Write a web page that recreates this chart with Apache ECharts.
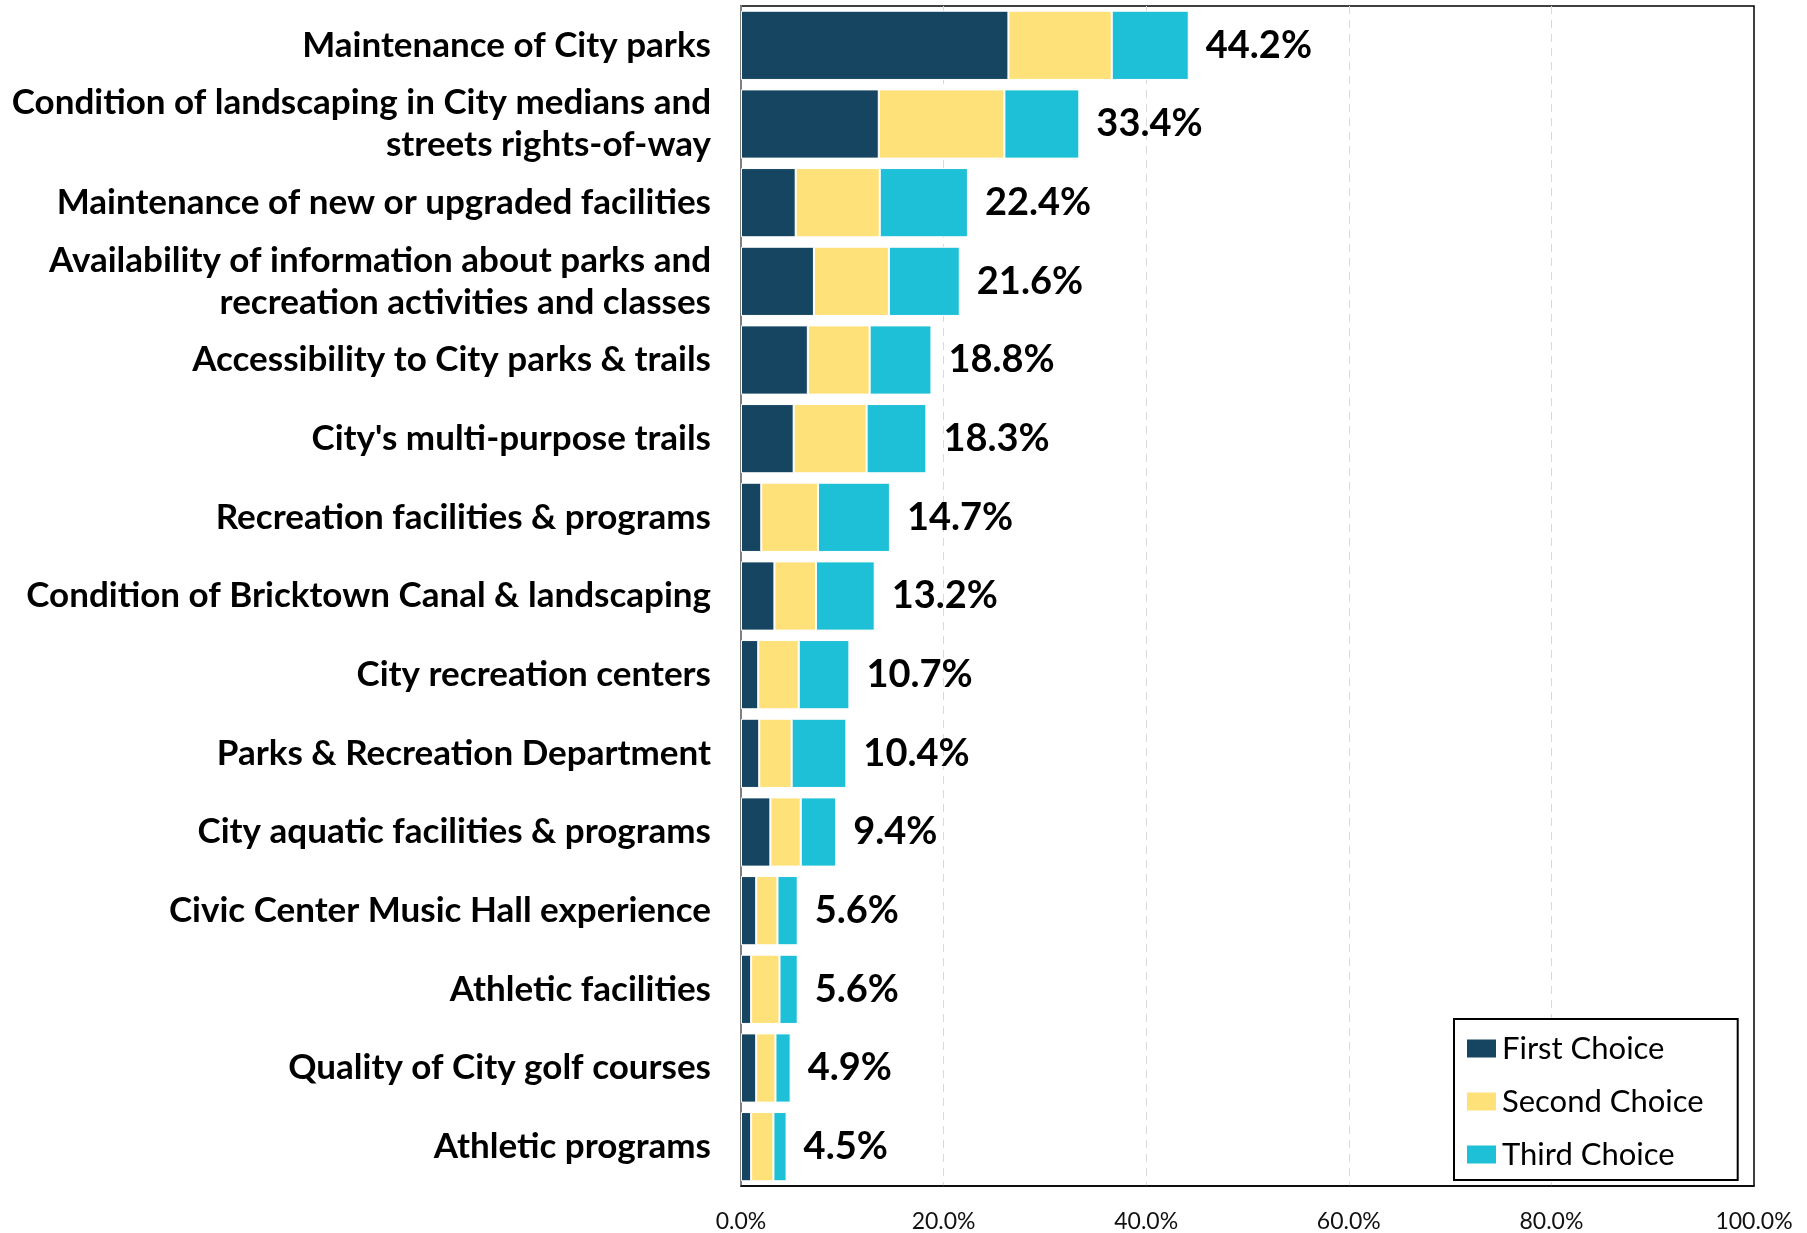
<!DOCTYPE html>
<html>
<head>
<meta charset="utf-8">
<script src="https://cdn.jsdelivr.net/npm/echarts@6/dist/echarts.min.js"></script>
<style>
  html, body { margin: 0; padding: 0; background: #fff; }
  #main { width: 1807px; height: 1233px; }
</style>
</head>
<body>
<div id="main"></div>
<script>
// categories, top to bottom
var categories = [
  'Maintenance of City parks',
  'Condition of landscaping in City medians and\nstreets rights-of-way',
  'Maintenance of new or upgraded facilities',
  'Availability of information about parks and\nrecreation activities and classes',
  'Accessibility to City parks & trails',
  "City's multi-purpose trails",
  'Recreation facilities & programs',
  'Condition of Bricktown Canal & landscaping',
  'City recreation centers',
  'Parks & Recreation Department',
  'City aquatic facilities & programs',
  'Civic Center Music Hall experience',
  'Athletic facilities',
  'Quality of City golf courses',
  'Athletic programs'
];

// percent values
var firstChoice  = [26.4, 13.6, 5.4, 7.2, 6.6, 5.2, 2.0, 3.3, 1.7, 1.8, 2.9, 1.5, 1.0, 1.5, 1.0];
var secondChoice = [10.2, 12.4, 8.3, 7.4, 6.1, 7.2, 5.6, 4.1, 4.0, 3.2, 3.0, 2.1, 2.8, 1.9, 2.2];
var thirdChoice  = [7.6,  7.4,  8.7, 7.0, 6.1, 5.9, 7.1, 5.8, 5.0, 5.4, 3.5, 2.0, 1.8, 1.5, 1.3];
var totals       = [44.2, 33.4, 22.4, 21.6, 18.8, 18.3, 14.7, 13.2, 10.7, 10.4, 9.4, 5.6, 5.6, 4.9, 4.5];

var chart = echarts.init(document.getElementById('main'));

function barSeries(name, data, color) {
  return {
    name: name,
    type: 'bar',
    stack: 'total',
    data: data,
    barCategoryGap: '12%',
    itemStyle: { color: color, borderColor: '#fff', borderWidth: 1 }
  };
}

var third = barSeries('Third Choice', thirdChoice, '#1EC0D7');
// total label sits at the end of the last segment
third.label = {
  show: true,
  position: 'right',
  distance: 17,
  fontFamily: 'Lato',
  fontWeight: 'bold',
  fontSize: 38,
  color: '#000',
  formatter: function (p) {
    return totals[p.dataIndex].toFixed(1) + '%';
  }
};

var option = {
  animation: false,
  backgroundColor: '#fff',
  textStyle: { fontFamily: 'Lato' },
  grid: {
    left: 741,
    right: 53,
    top: 6,
    bottom: 47,
    show: true,
    borderColor: '#000',
    borderWidth: 1.5
  },
  legend: {
    orient: 'vertical',
    left: 1454,
    top: 1019,
    data: ['First Choice', 'Second Choice', 'Third Choice'],
    icon: 'rect',
    itemWidth: 31,
    itemHeight: 20,
    itemGap: 22,
    padding: [14, 34, 10, 11],
    borderColor: '#000',
    borderWidth: 2,
    backgroundColor: '#fff',
    textStyle: { fontFamily: 'Lato', fontSize: 31, color: '#000', lineHeight: 20 }
  },
  xAxis: {
    type: 'value',
    min: 0,
    max: 100,
    interval: 20,
    axisLine: { show: true, lineStyle: { color: '#000', width: 1.5 } },
    axisTick: { show: false },
    splitLine: {
      show: true,
      showMinLine: false,
      showMaxLine: false,
      lineStyle: { color: '#d9d9d9', type: [8, 6], width: 1 }
    },
    axisLabel: {
      margin: 24,
      fontFamily: 'Lato',
      fontSize: 23,
      color: '#111',
      formatter: function (v) { return v.toFixed(1) + '%'; }
    }
  },
  yAxis: {
    type: 'category',
    inverse: true,
    data: categories,
    axisLine: { show: true, lineStyle: { color: '#7f7f7f', width: 2 } },
    axisTick: { show: false },
    axisLabel: {
      margin: 30,
      fontFamily: 'Lato',
      fontWeight: 'bold',
      fontSize: 35,
      lineHeight: 42,
      color: '#000'
    }
  },
  series: [
    barSeries('First Choice', firstChoice, '#164562'),
    barSeries('Second Choice', secondChoice, '#FFE17A'),
    third
  ]
};

chart.setOption(option);
</script>
</body>
</html>
